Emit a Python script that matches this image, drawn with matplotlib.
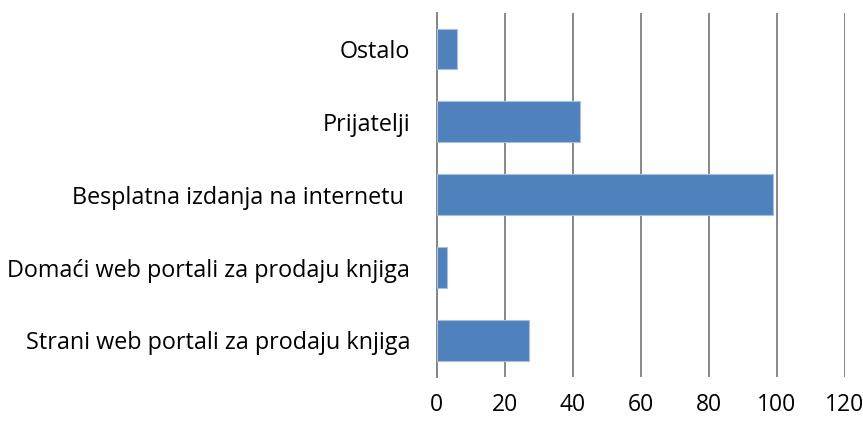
import matplotlib.pyplot as plt

categories = [
    'Strani web portali za prodaju knjiga',
    'Domaći web portali za prodaju knjiga',
    'Besplatna izdanja na internetu ',
    'Prijatelji',
    'Ostalo',
]
values = [27, 3, 99, 42, 6]
x_ticks = [0, 20, 40, 60, 80, 100, 120]

plt.rcParams['font.family'] = ['Open Sans', 'DejaVu Sans']

fig = plt.figure(figsize=(8.63, 4.21), dpi=100)
ax = fig.add_axes([0.506, 0.105, 0.473, 0.865])

ax.barh(range(len(categories)), values, height=0.56, color='#4F81BD',
        edgecolor='#A7C0DE', linewidth=0.8, zorder=3)

ax.set_xlim(0, 120)
ax.set_ylim(-0.5, len(categories) - 0.5)
ax.set_xticks(x_ticks)
ax.set_yticks(range(len(categories)))
ax.set_yticklabels(categories)

# vertical gridlines only, grey like the Excel original
ax.grid(axis='x', color='#868686', linewidth=1.4, zorder=0)
for side in ['top', 'right', 'bottom']:
    ax.spines[side].set_visible(False)
ax.spines['left'].set_color('#868686')
ax.spines['left'].set_linewidth(1.4)

ax.tick_params(axis='x', length=0, pad=12, labelsize=16.5)
ax.tick_params(axis='y', length=0, pad=19, labelsize=16.8)

plt.savefig('out.png', dpi=100)
